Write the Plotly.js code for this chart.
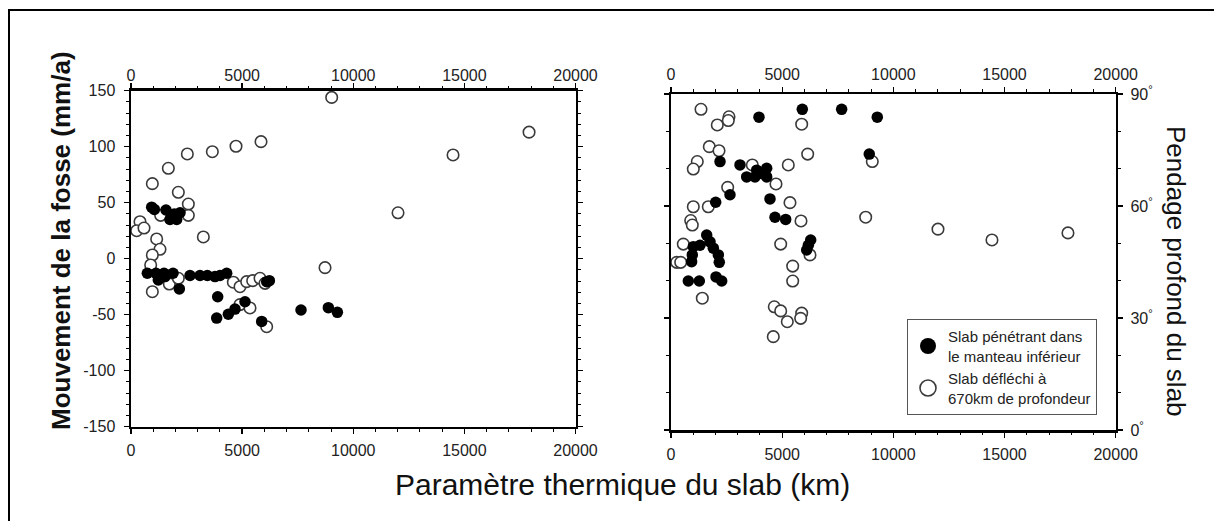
<!DOCTYPE html>
<html>
<head>
<meta charset="utf-8">
<script src="https://cdn.plot.ly/plotly-3.0.1.min.js"></script>
<style>html,body{margin:0;padding:0;background:#fff;}#chart{width:1214px;height:521px;}</style>
</head>
<body>
<div id="chart"></div>
<script>
// ---- Data ----
// Left panel: trench motion (mm/a) vs slab thermal parameter (km)
const leftPenX = [930, 1050, 1575, 1830, 1755, 2055, 2205, 1950, 735, 1125, 1485, 1890, 1230, 1530, 2175, 2655, 3105, 3435, 3780, 4005, 4305, 6105, 6225, 3900, 3855, 4380, 4680, 5130, 5880, 7650, 8880, 9285];
const leftPenY = [46, 44, 43.5, 39, 35, 35, 41, 40, -13, -13, -13, -13, -19, -16, -27, -15, -15, -15, -16, -15, -13, -20.5, -19.6, -34, -53, -49.6, -45, -38.4, -56, -45.8, -43.7, -47.9];
const leftDefX = [9030, 5850, 4725, 3660, 2535, 1680, 960, 2130, 2580, 2580, 1335, 405, 255, 585, 3255, 1155, 1305, 960, 885, 8730, 960, 1725, 2130, 4605, 4905, 5205, 5475, 5805, 6030, 4905, 5355, 6105, 12015, 14490, 17910];
const leftDefY = [144, 104.5, 100.4, 95.5, 93.5, 80.7, 67, 59.3, 48.8, 38.7, 38.7, 33, 25, 27.4, 19.4, 17.6, 8.4, 3.3, -5.6, -8, -29.5, -22.6, -17.5, -21, -25, -20.5, -19.6, -17.5, -22, -41, -44, -60.7, 41, 92.6, 113];
// Right panel: deep slab dip (degrees) vs slab thermal parameter (km)
const rightPenX = [5905, 7675, 3957, 9277, 8917, 2204, 3103, 3403, 3777, 3853, 4303, 4303, 4078, 2653, 2010, 4452, 4677, 5158, 6282, 6177, 6102, 1605, 1003, 1304, 1754, 1904, 2129, 958, 928, 2172, 778, 1273, 2024, 2280];
const rightPenY = [85.9, 85.9, 83.8, 83.8, 73.9, 71.9, 71, 67.8, 67.8, 69.6, 70.1, 67.8, 68.7, 63, 61, 61.9, 57, 56.4, 50.9, 49.5, 48.2, 52.2, 49.1, 49.5, 50.4, 48.7, 46.9, 46.9, 45.1, 44.9, 39.9, 39.9, 41, 39.9];
const rightDefX = [1349, 2608, 2577, 2082, 5877, 1723, 2159, 6147, 1183, 1003, 3657, 5275, 9053, 4722, 2549, 1003, 1677, 5351, 886, 958, 5846, 8756, 553, 256, 436, 4933, 6251, 5473, 5473, 1408, 4645, 4933, 5877, 5832, 5230, 4600, 12007, 14435, 17853];
const rightDefY = [85.9, 83.9, 82.9, 81.7, 81.9, 75.9, 74.8, 73.9, 71.9, 69.9, 71, 71, 71.9, 65.9, 65, 59.8, 59.8, 60.9, 56.1, 54.9, 56, 57, 49.8, 44.9, 44.9, 49.8, 46.9, 43.9, 39.9, 35.3, 33, 31.9, 31.3, 29.9, 29, 25, 53.8, 50.9, 52.8];

// Tick labels
const xTickVals = [0, 5000, 10000, 15000, 20000];
const xTickText = ['0', '5000', '10000', '15000', '20000'];
const motionTickVals = [-150, -100, -50, 0, 50, 100, 150];
const motionTickText = ['-150', '-100', '-50', '0', '50', '100', '150'];
const dipTickVals = [0, 30, 60, 90];
const dipTickText = ['0<sup>°</sup>', '30<sup>°</sup>', '60<sup>°</sup>', '90<sup>°</sup>'];

// Texts
const titleMotion = 'Mouvement de la fosse (mm/a)';
const titleDip = 'Pendage profond du slab';
const titleX = 'Paramètre thermique du slab (km)';
const legendPen = 'Slab pénétrant dans<br>le manteau inférieur';
const legendDef = 'Slab défléchi à<br>670km de profondeur';

// ---- Styles ----
const FONT = 'Liberation Sans, Arial, Helvetica, sans-serif';
const W = 1214, H = 521;
const px = v => v / W;
const py = v => 1 - v / H;

const openMarker = {symbol: 'circle', size: 11.5, color: '#ffffff', line: {color: '#3a3a3a', width: 1.6}};
const fullMarker = {symbol: 'circle', size: 11.5, color: '#000000', line: {color: '#000000', width: 0}};

// empty helper traces so the frame-only axes (opposite sides) get drawn
function frameTrace(xa, ya) {
  return {x: [null], y: [null], xaxis: xa, yaxis: ya, type: 'scatter', mode: 'markers', showlegend: false, hoverinfo: 'skip'};
}

const traces = [
  {x: leftDefX, y: leftDefY, xaxis: 'x', yaxis: 'y', type: 'scatter', mode: 'markers', marker: openMarker, showlegend: false, hoverinfo: 'skip'},
  {x: leftPenX, y: leftPenY, xaxis: 'x', yaxis: 'y', type: 'scatter', mode: 'markers', marker: fullMarker, showlegend: false, hoverinfo: 'skip'},
  {x: rightDefX, y: rightDefY, xaxis: 'x2', yaxis: 'y2', type: 'scatter', mode: 'markers', marker: openMarker, showlegend: false, hoverinfo: 'skip'},
  {x: rightPenX, y: rightPenY, xaxis: 'x2', yaxis: 'y2', type: 'scatter', mode: 'markers', marker: fullMarker, showlegend: false, hoverinfo: 'skip'},
  frameTrace('x3', 'y'), frameTrace('x', 'y3'), frameTrace('x4', 'y2'), frameTrace('x2', 'y4'),
  // legend entries
  {x: [null], y: [null], xaxis: 'x2', yaxis: 'y2', type: 'scatter', mode: 'markers', name: legendPen,
   marker: {symbol: 'circle', size: 16, color: '#000', line: {width: 0}}},
  {x: [null], y: [null], xaxis: 'x2', yaxis: 'y2', type: 'scatter', mode: 'markers', name: legendDef,
   marker: {symbol: 'circle', size: 16, color: '#fff', line: {color: '#3a3a3a', width: 1.6}}}
];

function axisBase(extra) {
  return Object.assign({
    showgrid: false, zeroline: false, showline: true, linecolor: '#000', linewidth: 2.5,
    ticks: 'outside', ticklen: 5, tickwidth: 1.3, tickcolor: '#000',
    tickfont: {family: FONT, size: 16, color: '#222'},
    fixedrange: true, automargin: false, tickmode: 'array'
  }, extra);
}

const xDomL = [px(131), px(575.5)];
const yDomL = [py(426.7), py(90.7)];
const xDomR = [px(671), px(1115.7)];
const yDomR = [py(430), py(94)];

const xMinor = {tickmode: 'linear', tick0: 0, dtick: 1000, ticks: 'outside', ticklen: 2.5, tickwidth: 1, tickcolor: '#000'};
const yMinorMotion = {tickmode: 'linear', tick0: 0, dtick: 10, ticks: 'outside', ticklen: 2.5, tickwidth: 1, tickcolor: '#000'};
const yMinorDip = {tickmode: 'linear', tick0: 0, dtick: 10, ticks: 'outside', ticklen: 2.5, tickwidth: 1, tickcolor: '#000'};

const layout = {
  width: W, height: H, autosize: false,
  margin: {l: 0, r: 0, t: 0, b: 0, pad: 0},
  paper_bgcolor: '#fff', plot_bgcolor: 'rgba(0,0,0,0)',
  font: {family: FONT, color: '#222'},
  showlegend: true,
  legend: {
    x: px(907), y: py(319), xanchor: 'left', yanchor: 'top',
    bgcolor: '#fff', bordercolor: '#555', borderwidth: 1,
    font: {family: FONT, size: 15, color: '#222'},
    tracegroupgap: 0, itemsizing: 'trace'
  },
  // left panel
  xaxis: axisBase({domain: xDomL, range: [0, 20000], anchor: 'y', side: 'bottom', tickvals: xTickVals, ticktext: xTickText, minor: xMinor, ticklabelstandoff: 3}),
  xaxis3: axisBase({overlaying: 'x', range: [0, 20000], anchor: 'y', side: 'top', tickvals: xTickVals, ticktext: xTickText, minor: xMinor, ticklabelstandoff: -4}),
  yaxis: axisBase({domain: yDomL, range: [-150, 150], anchor: 'x', side: 'left', tickvals: motionTickVals, ticktext: motionTickText, minor: yMinorMotion, ticklabelstandoff: 5}),
  yaxis3: axisBase({overlaying: 'y', range: [-150, 150], anchor: 'x', side: 'right', tickvals: motionTickVals, ticktext: motionTickText, minor: yMinorMotion, showticklabels: false}),
  // right panel
  xaxis2: axisBase({domain: xDomR, range: [0, 20000], anchor: 'y2', side: 'bottom', tickvals: xTickVals, ticktext: xTickText, minor: xMinor, ticklabelstandoff: 3}),
  xaxis4: axisBase({overlaying: 'x2', range: [0, 20000], anchor: 'y2', side: 'top', tickvals: xTickVals, ticktext: xTickText, minor: xMinor, ticklabelstandoff: 0}),
  yaxis2: axisBase({domain: yDomR, range: [0, 90], anchor: 'x2', side: 'right', tickvals: dipTickVals, ticktext: dipTickText, minor: yMinorDip, ticklabelstandoff: 4}),
  yaxis4: axisBase({overlaying: 'y2', range: [0, 90], anchor: 'x2', side: 'left', tickvals: dipTickVals, ticktext: dipTickText, minor: yMinorDip, showticklabels: false}),
  shapes: [
    {type: 'rect', xref: 'paper', yref: 'paper', x0: px(9), y0: py(10), x1: 1.05, y1: -0.1,
     line: {color: '#000', width: 2}, fillcolor: 'rgba(0,0,0,0)', layer: 'below'}
  ],
  annotations: [
    {xref: 'paper', yref: 'paper', x: px(61), y: py(241), text: '<b>' + titleMotion + '</b>', textangle: -90,
     showarrow: false, xanchor: 'center', yanchor: 'middle', font: {family: FONT, size: 26, color: '#111'}},
    {xref: 'paper', yref: 'paper', x: px(1176), y: py(271), text: titleDip, textangle: 90,
     showarrow: false, xanchor: 'center', yanchor: 'middle', font: {family: FONT, size: 26, color: '#111'}},
    {xref: 'paper', yref: 'paper', x: px(622), y: py(484), text: titleX,
     showarrow: false, xanchor: 'center', yanchor: 'middle', font: {family: FONT, size: 30, color: '#111'}}
  ]
};

Plotly.newPlot('chart', traces, layout, {staticPlot: true, displayModeBar: false});
</script>
</body>
</html>
